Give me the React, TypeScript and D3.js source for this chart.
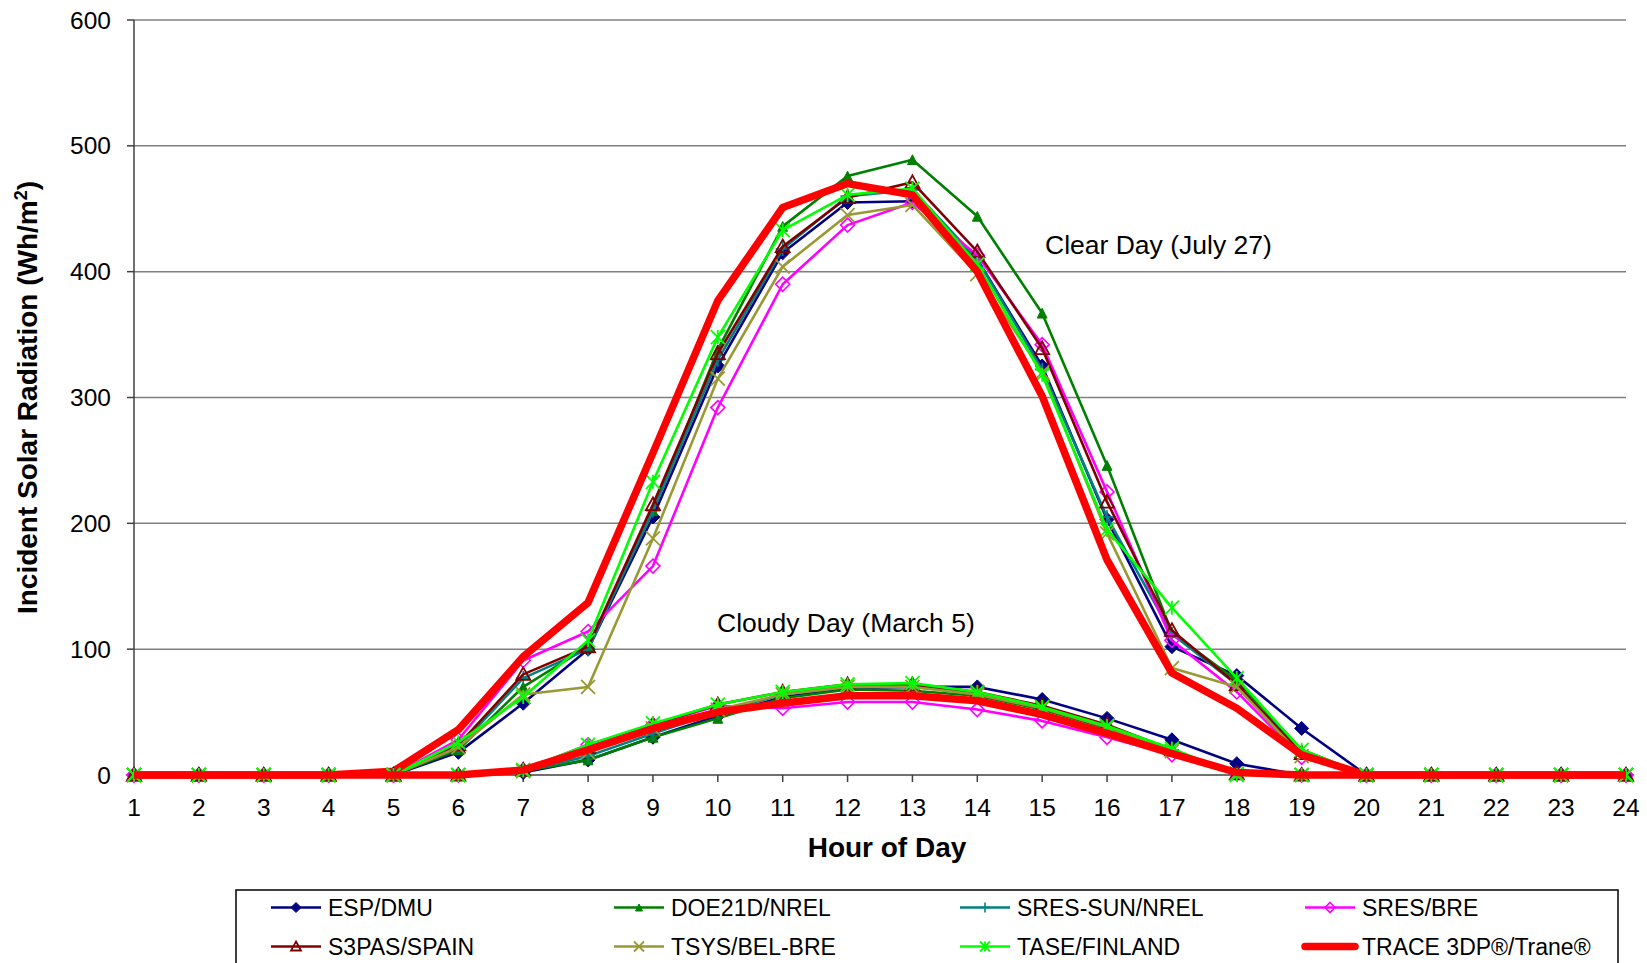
import React from "react";
import * as d3 from "d3";

const hours = [1,2,3,4,5,6,7,8,9,10,11,12,13,14,15,16,17,18,19,20,21,22,23,24];
const yTicks = [0,100,200,300,400,500,600];

const seriesNames = ["ESP/DMU","DOE21D/NREL","SRES-SUN/NREL","SRES/BRE","S3PAS/SPAIN","TSYS/BEL-BRE","TASE/FINLAND","TRACE 3DP®/Trane®"];
const seriesColors = ["#000080","#008000","#008080","#FF00FF","#800000","#999933","#00FF00","#FF0000"];
const seriesMarkers = ["diamond","triangleFilled","plus","diamondOpen","triangleOpen","x","star","none"];

const espClear = [0,0,0,0,0,18,57,100,205,325,415,455,456,410,325,203,102,79,37,0,0,0,0,0];
const espCloudy = [0,0,0,0,0,0,2,12,30,47,62,69,70,70,60,45,28,9,0,0,0,0,0,0];
const doeClear = [0,0,0,0,0,20,70,102,210,338,436,476,489,444,367,246,113,75,20,0,0,0,0,0];
const doeCloudy = [0,0,0,0,0,0,3,12,30,45,61,68,67,63,52,37,19,1,0,0,0,0,0,0];
const sunClear = [0,0,0,0,0,22,77,100,210,330,418,460,465,410,322,205,112,72,18,0,0,0,0,0];
const sunCloudy = [0,0,0,0,0,0,3,15,33,50,64,70,70,65,54,38,20,1,0,0,0,0,0,0];
const breClear = [0,0,0,0,0,28,91,114,166,292,390,437,455,413,342,225,107,66,14,0,0,0,0,0];
const breCloudy = [0,0,0,0,0,0,4,24,40,55,53,58,58,52,43,30,16,1,0,0,0,0,0,0];
const s3pasClear = [0,0,0,0,0,24,80,102,215,335,420,459,471,416,339,217,115,72,17,0,0,0,0,0];
const s3pasCloudy = [0,0,0,0,0,0,4,22,40,56,66,72,72,66,55,40,20,1,0,0,0,0,0,0];
const tsysClear = [0,0,0,0,0,22,64,70,188,315,404,445,453,398,320,192,85,70,15,0,0,0,0,0];
const tsysCloudy = [0,0,0,0,0,0,3,18,37,52,64,70,70,64,53,38,19,1,0,0,0,0,0,0];
const taseClear = [0,0,0,0,0,26,62,107,233,348,433,461,466,406,318,195,133,77,20,0,0,0,0,0];
const taseCloudy = [0,0,0,0,0,0,4,24,41,56,66,72,73,66,54,39,21,0,0,0,0,0,0,0];
const traceClear = [0,0,0,0,3,36,94,137,256,377,451,470,461,400,301,171,81,53,16,0,0,0,0,0];
const traceCloudy = [0,0,0,0,0,0,4,20,37,50,57,63,63,59,48,33,17,2,0,0,0,0,0,0];

const clearSeries = [espClear, doeClear, sunClear, breClear, s3pasClear, tsysClear, taseClear, traceClear];
const cloudySeries = [espCloudy, doeCloudy, sunCloudy, breCloudy, s3pasCloudy, tsysCloudy, taseCloudy, traceCloudy];

const FONT = "'Liberation Sans', Arial, sans-serif";

function Marker({ type, x, y, color, s }: { type: string; x: number; y: number; color: string; s: number }) {
  const h = s / 2;
  switch (type) {
    case "diamond":
      return <path d={`M${x},${y - h}L${x + h},${y}L${x},${y + h}L${x - h},${y}Z`} fill={color} stroke={color} strokeWidth={1} />;
    case "diamondOpen":
      return <path d={`M${x},${y - h}L${x + h},${y}L${x},${y + h}L${x - h},${y}Z`} fill="none" stroke={color} strokeWidth={1.6} />;
    case "triangleFilled": {
      const k = h * 0.7;
      return <path d={`M${x},${y - k}L${x + k},${y + k}L${x - k},${y + k}Z`} fill={color} stroke={color} strokeWidth={1} />;
    }
    case "triangleOpen":
      return <path d={`M${x},${y - h}L${x + h},${y + h * 0.8}L${x - h},${y + h * 0.8}Z`} fill="none" stroke={color} strokeWidth={1.8} />;
    case "plus":
      return <path d={`M${x - h},${y}L${x + h},${y}M${x},${y - h}L${x},${y + h}`} stroke={color} strokeWidth={1.6} />;
    case "x":
      return <path d={`M${x - h},${y - h}L${x + h},${y + h}M${x - h},${y + h}L${x + h},${y - h}`} stroke={color} strokeWidth={1.8} />;
    case "star":
      return <path d={`M${x - h},${y - h}L${x + h},${y + h}M${x - h},${y + h}L${x + h},${y - h}M${x},${y - h}L${x},${y + h}`} stroke={color} strokeWidth={1.8} />;
    default:
      return null;
  }
}

export default function App() {
  const W = 1647, H = 963;
  const x = d3.scaleLinear().domain([1, 24]).range([134, 1626]);
  const y = d3.scaleLinear().domain([0, 600]).range([775, 20]);
  const line = d3.line<number>().x((_, i) => x(hours[i])).y((d) => y(d));

  const renderSeries = (data: number[], i: number, key: string) => {
    const isTrace = seriesMarkers[i] === "none";
    return (
      <g key={key}>
        <path d={line(data) || ""} fill="none" stroke={seriesColors[i]} strokeWidth={isTrace ? 7.5 : 2.6} strokeLinejoin="round" />
        {!isTrace && data.map((v, j) => (
          <Marker key={j} type={seriesMarkers[i]} x={x(hours[j])} y={y(v)} color={seriesColors[i]} s={14} />
        ))}
      </g>
    );
  };

  const legendCols = [271, 614, 960, 1305];
  const legendRows = [907.5, 946.5];

  return (
    <svg width={W} height={H} style={{ position: "absolute", left: 0, top: 0, background: "#fff" }} fontFamily={FONT}>
      <rect x={0} y={0} width={W} height={H} fill="#fff" />
      {yTicks.filter((t) => t > 0).map((t) => (
        <line key={t} x1={134} x2={1626} y1={y(t)} y2={y(t)} stroke="#808080" strokeWidth={1.5} />
      ))}
      <line x1={134} x2={134} y1={y(600)} y2={y(0)} stroke="#404040" strokeWidth={1.5} />
      {yTicks.map((t) => (
        <g key={t}>
          <line x1={127} x2={134} y1={y(t)} y2={y(t)} stroke="#404040" strokeWidth={1.5} />
          <text x={111} y={y(t)} dy="0.35em" textAnchor="end" fontSize={24.5} fill="#000">{t}</text>
        </g>
      ))}
      <line x1={134} x2={1626} y1={y(0)} y2={y(0)} stroke="#404040" strokeWidth={1.5} />
      {hours.map((h) => (
        <g key={h}>
          <line x1={x(h)} x2={x(h)} y1={y(0)} y2={y(0) + 7} stroke="#404040" strokeWidth={1.5} />
          <text x={x(h)} y={816} textAnchor="middle" fontSize={24.5} fill="#000">{h}</text>
        </g>
      ))}
      <text x={887} y={857} textAnchor="middle" fontSize={28} fontWeight="bold" fill="#000">Hour of Day</text>
      <text transform={`translate(37,${(20 + 775) / 2}) rotate(-90)`} textAnchor="middle" fontSize={28} fontWeight="bold" fill="#000">
        Incident Solar Radiation (Wh/m<tspan dy={-10} fontSize={18}>2</tspan><tspan dy={10}>)</tspan>
      </text>
      {clearSeries.map((d, i) => renderSeries(d, i, "c" + i))}
      {cloudySeries.map((d, i) => renderSeries(d, i, "k" + i))}
      <text x={1045} y={254} fontSize={26.5} fill="#000">Clear Day (July 27)</text>
      <text x={717} y={632} fontSize={26.5} fill="#000">Cloudy Day (March 5)</text>
      <rect x={236} y={890} width={1382} height={100} fill="#fff" stroke="#000" strokeWidth={1.5} />
      {seriesNames.map((name, i) => {
        const col = i % 4;
        const row = Math.floor(i / 4);
        const lx = legendCols[col];
        const ly = legendRows[row];
        const isTrace = seriesMarkers[i] === "none";
        return (
          <g key={name}>
            <line x1={lx} x2={lx + 50} y1={ly} y2={ly} stroke={seriesColors[i]} strokeWidth={isTrace ? 7.5 : 2.6} strokeLinecap={isTrace ? "round" : "butt"} />
            {!isTrace && <Marker type={seriesMarkers[i]} x={lx + 25} y={ly} color={seriesColors[i]} s={10} />}
            <text x={lx + 57} y={ly} dy="0.35em" fontSize={23} fill="#000">{name}</text>
          </g>
        );
      })}
    </svg>
  );
}
